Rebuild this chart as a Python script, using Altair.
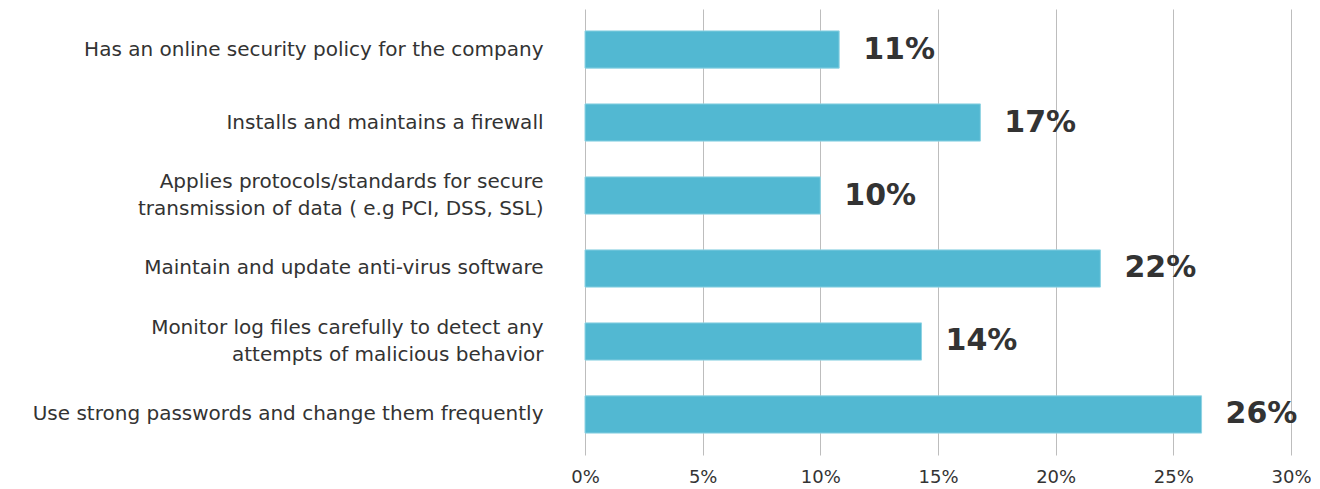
import altair as alt
import pandas as pd

categories = [
    "Has an online security policy for the company",
    "Installs and maintains a firewall",
    "Applies protocols/standards for secure|transmission of data ( e.g PCI, DSS, SSL)",
    "Maintain and update anti-virus software",
    "Monitor log files carefully to detect any|attempts of malicious behavior",
    "Use strong passwords and change them frequently ",
]
values = [10.8, 16.8, 10.0, 21.9, 14.3, 26.2]
value_labels = ["11%", "17%", "10%", "22%", "14%", "26%"]
x_ticks = [0, 5, 10, 15, 20, 25, 30]

df = pd.DataFrame({"cat": categories, "val": values, "lab": value_labels})

FONT = "DejaVu Sans"
LINE_H = 27

y = alt.Y(
    "cat:N",
    sort=categories,
    title=None,
    scale=alt.Scale(paddingInner=0.49, paddingOuter=0.3),
    axis=alt.Axis(
        labelExpr="split(datum.label, '|')",
        labelFont=FONT,
        labelFontSize=20,
        labelColor="#333333",
        labelPadding=42,
        labelLineHeight=LINE_H,
        labelOffset=alt.condition("indexof(datum.value, '|') >= 0", alt.value(-LINE_H / 2), alt.value(0)),
        labelLimit=700,
        domain=False,
        ticks=False,
        grid=False,
    ),
)
x = alt.X(
    "val:Q",
    title=None,
    scale=alt.Scale(domain=[0, 30], nice=False),
    axis=alt.Axis(
        values=x_ticks,
        labelExpr="datum.value + '%'",
        labelFont=FONT,
        labelFontSize=18,
        labelColor="#333333",
        labelPadding=13,
        labelFlush=False,
        domain=False,
        ticks=False,
        grid=True,
        gridColor="#bdbdbd",
        gridWidth=1,
    ),
)

bars = alt.Chart(df).mark_bar(color="#52B8D2", stroke="#8fd3e3", strokeWidth=1).encode(x=x, y=y)
text = alt.Chart(df).mark_text(
    align="left", baseline="middle", dx=24, font=FONT, fontSize=30, fontWeight="bold", color="#333333"
).encode(x="val:Q", y=alt.Y("cat:N", sort=categories), text="lab:N")

chart = (bars + text).properties(
    width=706,
    height=446,
    padding={"left": 577, "top": 1, "right": 20, "bottom": 30},
    autosize=alt.AutoSizeParams(type="none"),
).configure_view(stroke=None)

chart.save("out.html", embed_options={"renderer": "svg", "actions": False})
